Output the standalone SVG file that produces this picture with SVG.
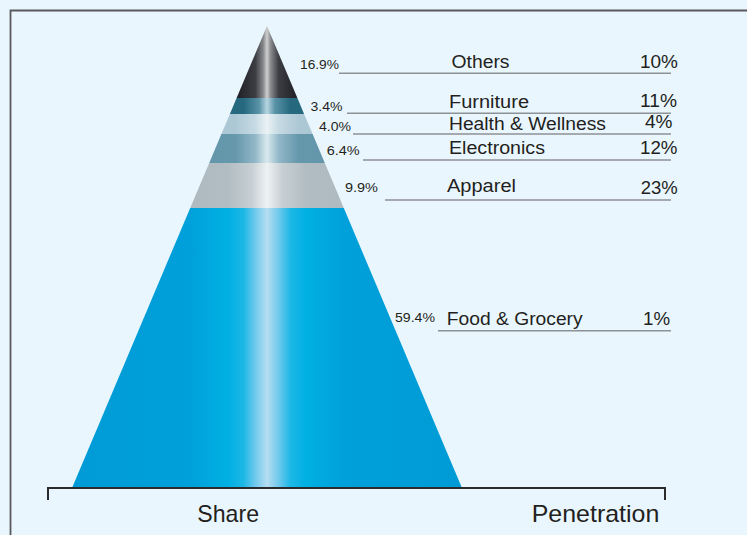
<svg xmlns="http://www.w3.org/2000/svg" width="747" height="535" viewBox="0 0 747 535">
  <defs>
    <linearGradient id="gBlack" gradientUnits="userSpaceOnUse" x1="72" y1="0" x2="462" y2="0">
      <stop offset="0" stop-color="#1c1d22"/>
      <stop offset="0.43" stop-color="#222429"/>
      <stop offset="0.47" stop-color="#3b3d42"/>
      <stop offset="0.49" stop-color="#85878b"/>
      <stop offset="0.5" stop-color="#cfcfcf"/>
      <stop offset="0.51" stop-color="#85878b"/>
      <stop offset="0.53" stop-color="#3b3d42"/>
      <stop offset="0.57" stop-color="#222429"/>
      <stop offset="1" stop-color="#1c1d22"/>
    </linearGradient>
    <linearGradient id="gTeal" gradientUnits="userSpaceOnUse" x1="72" y1="0" x2="462" y2="0">
      <stop offset="0" stop-color="#1d6478"/>
      <stop offset="0.44" stop-color="#26697e"/>
      <stop offset="0.48" stop-color="#5a93a8"/>
      <stop offset="0.5" stop-color="#b8d6e2"/>
      <stop offset="0.52" stop-color="#5a93a8"/>
      <stop offset="0.56" stop-color="#26697e"/>
      <stop offset="1" stop-color="#1d6478"/>
    </linearGradient>
    <linearGradient id="gPale" gradientUnits="userSpaceOnUse" x1="72" y1="0" x2="462" y2="0">
      <stop offset="0" stop-color="#a4c2d0"/>
      <stop offset="0.42" stop-color="#adc8d5"/>
      <stop offset="0.47" stop-color="#c6dae3"/>
      <stop offset="0.5" stop-color="#eaf2f5"/>
      <stop offset="0.53" stop-color="#c6dae3"/>
      <stop offset="0.58" stop-color="#adc8d5"/>
      <stop offset="1" stop-color="#a4c2d0"/>
    </linearGradient>
    <linearGradient id="gMid" gradientUnits="userSpaceOnUse" x1="72" y1="0" x2="462" y2="0">
      <stop offset="0" stop-color="#578ea4"/>
      <stop offset="0.42" stop-color="#6698ac"/>
      <stop offset="0.47" stop-color="#92b8c8"/>
      <stop offset="0.5" stop-color="#dae9ef"/>
      <stop offset="0.53" stop-color="#92b8c8"/>
      <stop offset="0.58" stop-color="#6698ac"/>
      <stop offset="1" stop-color="#578ea4"/>
    </linearGradient>
    <linearGradient id="gGrey" gradientUnits="userSpaceOnUse" x1="72" y1="0" x2="462" y2="0">
      <stop offset="0" stop-color="#a4b0b7"/>
      <stop offset="0.40" stop-color="#b2bdc3"/>
      <stop offset="0.46" stop-color="#c7cfd3"/>
      <stop offset="0.5" stop-color="#eef2f3"/>
      <stop offset="0.54" stop-color="#c7cfd3"/>
      <stop offset="0.60" stop-color="#b2bdc3"/>
      <stop offset="1" stop-color="#a4b0b7"/>
    </linearGradient>
    <linearGradient id="gBlue" gradientUnits="userSpaceOnUse" x1="72" y1="0" x2="462" y2="0">
      <stop offset="0" stop-color="#009bd6"/>
      <stop offset="0.30" stop-color="#00a0da"/>
      <stop offset="0.40" stop-color="#00b0e3"/>
      <stop offset="0.44" stop-color="#1db8e6"/>
      <stop offset="0.47" stop-color="#6fc9ed"/>
      <stop offset="0.5" stop-color="#b6ddf1"/>
      <stop offset="0.53" stop-color="#6fc9ed"/>
      <stop offset="0.56" stop-color="#1db8e6"/>
      <stop offset="0.60" stop-color="#00b0e3"/>
      <stop offset="0.70" stop-color="#00a0da"/>
      <stop offset="1" stop-color="#009bd6"/>
    </linearGradient>
  </defs>
  <style>
    .pct { font-family: "Liberation Sans", Arial, sans-serif; font-size: 13px; fill: #231f20; }
    .cat { font-family: "Liberation Sans", Arial, sans-serif; font-size: 17.5px; fill: #231f20; }
    .axl { font-family: "Liberation Sans", Arial, sans-serif; font-size: 24px; fill: #231f20; }
    .lead { stroke: #8c9196; stroke-width: 1.5; fill: none; }
    .frame { stroke: #58595b; stroke-width: 1.8; fill: none; }
    .axis { stroke: #2b2b2d; stroke-width: 2; fill: none; }
  </style>

  <!-- background and frame -->
  <rect x="0" y="0" width="747" height="535" fill="#eaf6fe"/>
  <path class="frame" d="M10.5 535 V10.5 H747"/>

  <!-- pyramid bands with share labels and penetration values -->
  <g id="others">
    <polygon points="267,26 297.4,98 236.6,98" fill="url(#gBlack)"/>
    <text class="pct" x="300" y="68.5" textLength="39" lengthAdjust="spacingAndGlyphs">16.9%</text>
    <text class="cat" x="451.5" y="67.5" textLength="58" lengthAdjust="spacingAndGlyphs">Others</text>
    <text class="cat" x="640" y="67.5" textLength="38" lengthAdjust="spacingAndGlyphs">10%</text>
  </g>
  <g id="furniture">
    <polygon points="236.6,98 297.4,98 304.1,114 229.9,114" fill="url(#gTeal)"/>
    <text class="pct" x="310.5" y="110.7" textLength="32" lengthAdjust="spacingAndGlyphs">3.4%</text>
    <text class="cat" x="449" y="108.3" textLength="80" lengthAdjust="spacingAndGlyphs">Furniture</text>
    <text class="cat" x="640" y="106.7" textLength="37" lengthAdjust="spacingAndGlyphs">11%</text>
  </g>
  <g id="health-wellness">
    <polygon points="229.9,114 304.1,114 312.6,134 221.4,134" fill="url(#gPale)"/>
    <text class="pct" x="319" y="130.7" textLength="32" lengthAdjust="spacingAndGlyphs">4.0%</text>
    <text class="cat" x="449" y="130" textLength="157" lengthAdjust="spacingAndGlyphs">Health &amp; Wellness</text>
    <text class="cat" x="645" y="127.5" textLength="27.5" lengthAdjust="spacingAndGlyphs">4%</text>
  </g>
  <g id="electronics">
    <polygon points="221.4,134 312.6,134 324.8,163 209.2,163" fill="url(#gMid)"/>
    <text class="pct" x="326.7" y="155" textLength="33" lengthAdjust="spacingAndGlyphs">6.4%</text>
    <text class="cat" x="449" y="154" textLength="96" lengthAdjust="spacingAndGlyphs">Electronics</text>
    <text class="cat" x="640" y="153.5" textLength="37.5" lengthAdjust="spacingAndGlyphs">12%</text>
  </g>
  <g id="apparel">
    <polygon points="209.2,163 324.8,163 343.8,208 190.2,208" fill="url(#gGrey)"/>
    <text class="pct" x="345" y="191.7" textLength="33" lengthAdjust="spacingAndGlyphs">9.9%</text>
    <text class="cat" x="447" y="191.7" textLength="69" lengthAdjust="spacingAndGlyphs">Apparel</text>
    <text class="cat" x="640.7" y="194" textLength="37" lengthAdjust="spacingAndGlyphs">23%</text>
  </g>
  <g id="food-grocery">
    <polygon points="190.2,208 343.8,208 462,488 72,488" fill="url(#gBlue)"/>
    <text class="pct" x="395" y="321.7" textLength="40" lengthAdjust="spacingAndGlyphs">59.4%</text>
    <text class="cat" x="446.7" y="325" textLength="136" lengthAdjust="spacingAndGlyphs">Food &amp; Grocery</text>
    <text class="cat" x="643" y="325" textLength="27" lengthAdjust="spacingAndGlyphs">1%</text>
  </g>

  <!-- leader lines under each category row -->
  <g id="connectors">
    <line class="lead" x1="339" y1="73.3" x2="671" y2="73.3"/>
    <line class="lead" x1="347" y1="113.3" x2="671" y2="113.3"/>
    <line class="lead" x1="353" y1="134" x2="671" y2="134"/>
    <line class="lead" x1="363" y1="160" x2="671" y2="160"/>
    <line class="lead" x1="385" y1="200" x2="671" y2="200"/>
    <line class="lead" x1="438" y1="330.7" x2="671" y2="330.7"/>
  </g>

  <!-- base axis -->
  <g id="axis">
    <path class="axis" d="M48 500 V488 H665 V500"/>
    <text class="axl" x="197.3" y="521.7" textLength="61.7" lengthAdjust="spacingAndGlyphs">Share</text>
    <text class="axl" x="531.7" y="521.7" textLength="127.6" lengthAdjust="spacingAndGlyphs">Penetration</text>
  </g>
</svg>
